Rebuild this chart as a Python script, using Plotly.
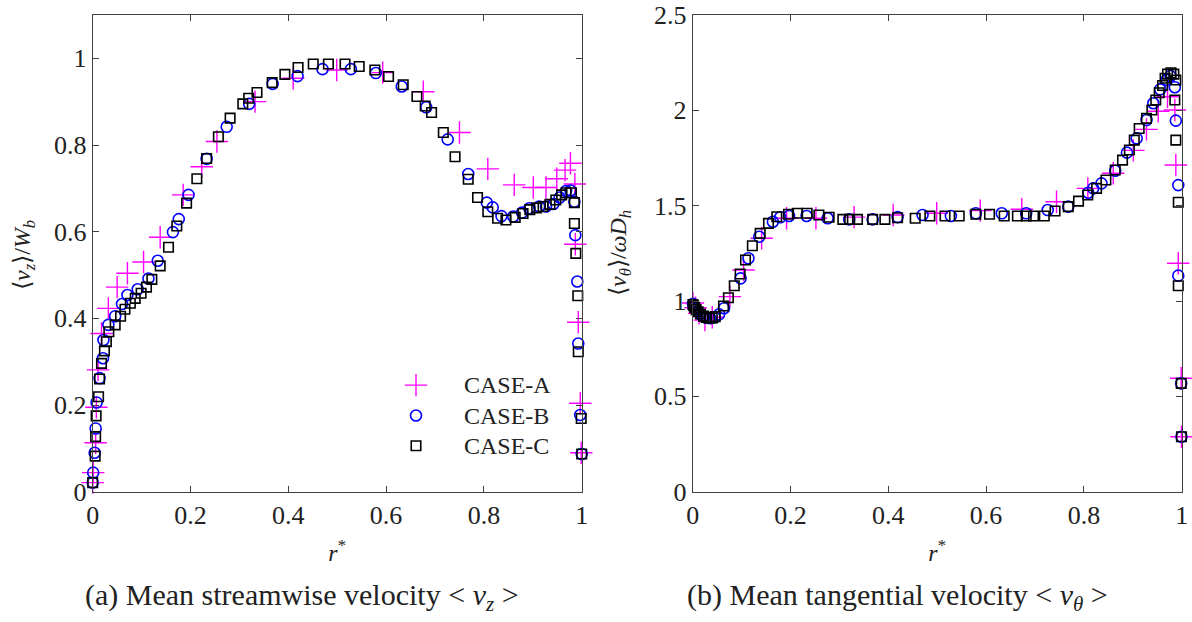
import plotly.graph_objects as go

# ---------------- Data: (a) mean streamwise velocity ----------------
a_r = [0.0, 0.001, 0.006, 0.0075, 0.011, 0.018, 0.032, 0.050, 0.071, 0.104, 0.138, 0.185,
       0.223, 0.254, 0.332, 0.410, 0.499, 0.593, 0.676, 0.750, 0.808, 0.862, 0.901, 0.927,
       0.949, 0.966, 0.977, 0.986, 0.987, 0.993, 0.997, 0.999]
a_vz = [0.021, 0.044, 0.113, 0.195, 0.281, 0.365, 0.423, 0.472, 0.504, 0.530, 0.587, 0.685,
        0.750, 0.808, 0.900, 0.954, 0.973, 0.967, 0.923, 0.829, 0.745, 0.708, 0.702, 0.702,
        0.722, 0.742, 0.758, 0.710, 0.571, 0.391, 0.204, 0.090]

b_r = [0.0, 0.001, 0.004, 0.006, 0.008, 0.014, 0.021, 0.022, 0.032, 0.046, 0.060, 0.071,
       0.092, 0.114, 0.133, 0.164, 0.176, 0.196, 0.233, 0.274, 0.320, 0.368, 0.419, 0.470,
       0.528, 0.579, 0.632, 0.682, 0.726, 0.768, 0.806, 0.818, 0.836, 0.860, 0.878, 0.893,
       0.913, 0.927, 0.942, 0.955, 0.968, 0.977, 0.985, 0.987, 0.991, 0.993, 0.997, 1.0]
b_vz = [0.021, 0.044, 0.090, 0.146, 0.206, 0.262, 0.308, 0.350, 0.385, 0.405, 0.433, 0.454,
        0.467, 0.492, 0.533, 0.599, 0.629, 0.685, 0.768, 0.842, 0.895, 0.941, 0.959, 0.975,
        0.975, 0.966, 0.935, 0.887, 0.813, 0.733, 0.667, 0.656, 0.636, 0.635, 0.644, 0.654,
        0.658, 0.658, 0.664, 0.679, 0.694, 0.695, 0.669, 0.592, 0.485, 0.342, 0.177, 0.087]

c_r = [0.0, 0.005, 0.006, 0.007, 0.012, 0.014, 0.018, 0.024, 0.028, 0.033, 0.046, 0.057,
       0.066, 0.077, 0.087, 0.099, 0.110, 0.121, 0.138, 0.155, 0.172, 0.192, 0.213, 0.233,
       0.257, 0.281, 0.307, 0.319, 0.336, 0.367, 0.393, 0.420, 0.451, 0.482, 0.516, 0.545,
       0.577, 0.605, 0.635, 0.663, 0.680, 0.693, 0.717, 0.741, 0.768, 0.787, 0.808, 0.828,
       0.845, 0.864, 0.880, 0.894, 0.908, 0.921, 0.935, 0.947, 0.959, 0.968, 0.979, 0.985,
       0.985, 0.988, 0.992, 0.993, 0.999, 1.0]
c_vz = [0.021, 0.082, 0.127, 0.175, 0.219, 0.260, 0.296, 0.325, 0.346, 0.369, 0.385, 0.405,
        0.421, 0.435, 0.446, 0.458, 0.472, 0.490, 0.521, 0.564, 0.613, 0.666, 0.722, 0.769,
        0.819, 0.862, 0.895, 0.908, 0.921, 0.944, 0.963, 0.979, 0.987, 0.987, 0.987, 0.981,
        0.973, 0.958, 0.939, 0.912, 0.890, 0.875, 0.829, 0.773, 0.721, 0.679, 0.646, 0.631,
        0.627, 0.633, 0.642, 0.651, 0.655, 0.658, 0.663, 0.673, 0.685, 0.690, 0.690, 0.667,
        0.619, 0.550, 0.452, 0.323, 0.169, 0.087]

# ---------------- Data: (b) mean tangential velocity ----------------
a_r2 = [0.0005, 0.006, 0.013, 0.025, 0.040, 0.076, 0.104, 0.141, 0.192, 0.252, 0.330, 0.410,
        0.499, 0.588, 0.673, 0.744, 0.808, 0.860, 0.901, 0.928, 0.952, 0.971, 0.986, 0.988,
        0.993, 0.999, 0.9995]
a_vt = [0.990, 0.965, 0.935, 0.900, 0.915, 1.023, 1.163, 1.329, 1.434, 1.434, 1.440, 1.451,
        1.460, 1.474, 1.481, 1.521, 1.591, 1.670, 1.790, 1.900, 1.995, 2.071, 2.002, 1.713,
        1.198, 0.595, 0.288]

b_r2 = [0.0005, 0.003, 0.006, 0.010, 0.015, 0.021, 0.028, 0.036, 0.045, 0.054, 0.064, 0.098,
        0.114, 0.136, 0.164, 0.179, 0.197, 0.233, 0.276, 0.320, 0.368, 0.419, 0.470, 0.528,
        0.579, 0.632, 0.682, 0.726, 0.768, 0.809, 0.819, 0.836, 0.864, 0.888, 0.908, 0.928,
        0.942, 0.956, 0.969, 0.977, 0.986, 0.988, 0.993, 0.993, 0.999, 0.9995]
b_vt = [0.985, 0.972, 0.958, 0.945, 0.932, 0.920, 0.912, 0.910, 0.915, 0.930, 0.962, 1.119,
        1.224, 1.337, 1.416, 1.439, 1.446, 1.446, 1.434, 1.428, 1.428, 1.440, 1.451, 1.446,
        1.460, 1.460, 1.460, 1.477, 1.495, 1.568, 1.591, 1.617, 1.683, 1.778, 1.853, 1.949,
        2.037, 2.110, 2.160, 2.180, 2.121, 1.946, 1.608, 1.133, 0.568, 0.288]

c_r2 = [0.0005, 0.002, 0.004, 0.007, 0.011, 0.016, 0.022, 0.028, 0.034, 0.040, 0.046, 0.063,
        0.073, 0.085, 0.097, 0.108, 0.122, 0.138, 0.155, 0.172, 0.196, 0.214, 0.234, 0.258,
        0.279, 0.307, 0.321, 0.337, 0.368, 0.393, 0.419, 0.455, 0.485, 0.516, 0.545, 0.579,
        0.607, 0.637, 0.664, 0.682, 0.697, 0.719, 0.741, 0.768, 0.789, 0.808, 0.826, 0.845,
        0.864, 0.879, 0.893, 0.903, 0.913, 0.928, 0.939, 0.947, 0.954, 0.961, 0.966, 0.971,
        0.978, 0.984, 0.988, 0.986, 0.988, 0.993, 0.993, 0.999, 0.9995]
c_vt = [0.982, 0.975, 0.966, 0.955, 0.944, 0.932, 0.921, 0.914, 0.910, 0.911, 0.918, 0.974,
        1.017, 1.080, 1.142, 1.215, 1.290, 1.355, 1.407, 1.442, 1.455, 1.460, 1.460, 1.451,
        1.439, 1.428, 1.428, 1.428, 1.428, 1.428, 1.437, 1.434, 1.446, 1.446, 1.446, 1.455,
        1.455, 1.446, 1.446, 1.446, 1.446, 1.446, 1.472, 1.495, 1.524, 1.556, 1.591, 1.635,
        1.687, 1.739, 1.792, 1.844, 1.905, 1.958, 2.002, 2.054, 2.092, 2.130, 2.168, 2.190,
        2.197, 2.190, 2.159, 2.054, 1.844, 1.518, 1.080, 0.568, 0.288]

case_names = ["CASE-A", "CASE-B", "CASE-C"]
x_ticks = [0, 0.2, 0.4, 0.6, 0.8, 1]
y_ticks_a = [0, 0.2, 0.4, 0.6, 0.8, 1]
y_ticks_b = [0, 0.5, 1, 1.5, 2, 2.5]

FONT = "Liberation Serif"
AXC = "#404040"
TXT = "#222222"

styles = [
    dict(symbol="cross-thin-open", size=16, color="#ff00ff", line=dict(color="#ff00ff", width=1.4)),
    dict(symbol="circle-open", size=11, color="#0000ff", line=dict(color="#0000ff", width=1.6)),
    dict(symbol="square-open", size=9.5, color="#000000", line=dict(color="#000000", width=1.6)),
]

fig = go.Figure()
left = [(a_r, a_vz), (b_r, b_vz), (c_r, c_vz)]
right = [(a_r2, a_vt), (b_r2, b_vt), (c_r2, c_vt)]
for i, (xs, ys) in enumerate(left):
    fig.add_trace(go.Scatter(x=xs, y=ys, mode="markers",
                             name="<span style='font-size:24px'>" + case_names[i] + "</span>",
                             marker=styles[i], cliponaxis=False, xaxis="x", yaxis="y",
                             showlegend=True))
for i, (xs, ys) in enumerate(right):
    fig.add_trace(go.Scatter(x=xs, y=ys, mode="markers", name=case_names[i], marker=styles[i],
                             cliponaxis=False, xaxis="x2", yaxis="y2", showlegend=False))

W, H = 1192, 622
xl0, xl1 = 92.7 / W, 581.7 / W
xr0, xr1 = 692.7 / W, 1181.7 / W
yb, yt = (H - 491.7) / H, (H - 15) / H

ax_common = dict(showline=True, mirror="ticks", linecolor=AXC, linewidth=1, ticks="inside",
                 ticklen=6, tickcolor=AXC, tickwidth=1, showgrid=False, zeroline=False,
                 automargin=False, tickfont=dict(family=FONT, size=26, color=TXT))

fig.update_layout(
    width=W, height=H, margin=dict(l=0, r=0, t=0, b=0, pad=0, autoexpand=False),
    paper_bgcolor="white", plot_bgcolor="white",
    font=dict(family=FONT, size=24, color=TXT),
    xaxis=dict(domain=[xl0, xl1], range=[0, 1], tickvals=x_ticks, anchor="y",
               title=dict(text="<i>r</i><sup>*</sup>", font=dict(family=FONT, size=24, color=TXT)), **ax_common),
    yaxis=dict(domain=[yb, yt], range=[0, 1.1], tickvals=y_ticks_a, anchor="x", **ax_common),
    xaxis2=dict(domain=[xr0, xr1], range=[0, 1], tickvals=x_ticks, anchor="y2",
                title=dict(text="<i>r</i><sup>*</sup>", font=dict(family=FONT, size=24, color=TXT)), **ax_common),
    yaxis2=dict(domain=[yb, yt], range=[0, 2.5], tickvals=y_ticks_b, anchor="x2", **ax_common),
    legend=dict(x=368 / W, y=(H - 365) / H, xanchor="left", yanchor="top",
                bgcolor="rgba(0,0,0,0)", font=dict(family=FONT, size=21, color=TXT),
                itemwidth=86, tracegroupgap=0),
    showlegend=True,
)

# y-axis titles
fig.add_annotation(text="⟨<i>v<sub>z</sub></i>⟩/<i>W<sub>b</sub></i>",
                   xref="paper", yref="paper", x=24 / W, y=(H - 255) / H, textangle=-90,
                   xanchor="center", yanchor="middle", showarrow=False,
                   font=dict(family=FONT, size=24, color=TXT))
fig.add_annotation(text="⟨<i>v<sub>θ</sub></i>⟩/<i>ωD<sub>h</sub></i>",
                   xref="paper", yref="paper", x=620 / W, y=(H - 253) / H, textangle=-90,
                   xanchor="center", yanchor="middle", showarrow=False,
                   font=dict(family=FONT, size=24, color=TXT))

# captions
fig.add_annotation(text="(a) Mean streamwise velocity &lt; <i>v<sub>z</sub></i> &gt;",
                   xref="paper", yref="paper", x=302 / W, y=(H - 597) / H,
                   xanchor="center", yanchor="middle", showarrow=False,
                   font=dict(family=FONT, size=30, color=TXT))
fig.add_annotation(text="(b) Mean tangential velocity &lt; <i>v<sub>θ</sub></i> &gt;",
                   xref="paper", yref="paper", x=897 / W, y=(H - 597) / H,
                   xanchor="center", yanchor="middle", showarrow=False,
                   font=dict(family=FONT, size=30, color=TXT))

fig.write_html("out.html")
